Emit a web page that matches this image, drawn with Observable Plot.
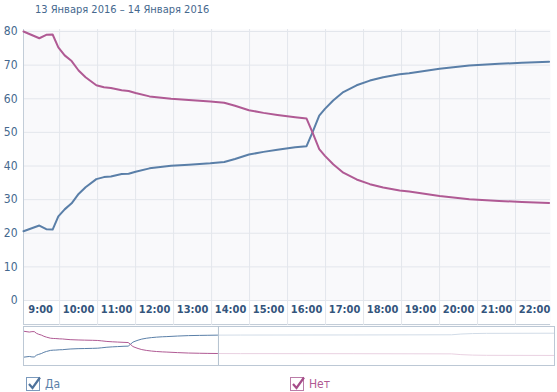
<!DOCTYPE html>
<html><head><meta charset="utf-8">
<script src="https://cdn.jsdelivr.net/npm/d3@7"></script>
<script src="https://cdn.jsdelivr.net/npm/@observablehq/plot@0.6"></script>
<style>
body{margin:0;background:#fff;}
#wrap{position:relative;width:557px;height:392px;overflow:hidden;font-family:"DejaVu Sans Condensed","DejaVu Sans",sans-serif;}
#title{position:absolute;left:35px;top:3px;font-size:11px;color:#45688e;white-space:nowrap;}
#main{position:absolute;left:0;top:0;}
#nav{position:absolute;left:0;top:326px;}
.leg{position:absolute;top:376px;font-size:12px;display:flex;align-items:center;}
.leg svg{display:block;}
</style></head><body>
<div id="wrap">
  <div id="main"></div>
  <div id="nav"></div>
  <div id="title">13 Января 2016 – 14 Января 2016</div>
  <div class="leg" style="left:25px"><svg width="17" height="16"><rect x="1.5" y="1.5" width="13" height="13" fill="#fff" stroke="#7b9abd"/><path d="M4 8 L7.5 12 L15 1.5" stroke="#4f739c" stroke-width="2.2" fill="none"/></svg><span style="margin-left:3px;color:#5b80a8">Да</span></div>
  <div class="leg" style="left:289px"><svg width="17" height="16"><rect x="1.5" y="1.5" width="13" height="13" fill="#fff" stroke="#bb7ca8"/><path d="M4 8 L7.5 12 L15 1.5" stroke="#a64d8a" stroke-width="2.2" fill="none"/></svg><span style="margin-left:3px;color:#b05a94">Нет</span></div>
</div>
<script>
// ---- data ----
const times = ["8:33","8:58","9:09","9:19","9:28","9:38","9:49","10:00","10:11","10:28","10:40","10:51","11:08","11:19","11:30","11:52","12:26","12:54","13:28","13:50","14:07","14:29","14:52","15:14","15:42","16:00","16:10","16:20","16:29","16:42","16:58","17:19","17:40","18:01","18:27","18:42","19:30","20:17","21:04","21:40","22:23"];
const yes = [20.6,22.3,21.2,21.1,25.0,27.1,28.9,31.7,33.7,36.1,36.7,36.9,37.6,37.7,38.3,39.3,40.1,40.4,40.8,41.2,42.1,43.4,44.2,44.8,45.6,45.9,50.3,55.0,57.0,59.5,62.0,64.0,65.4,66.4,67.3,67.6,68.9,69.9,70.4,70.7,71.0];
const no  = [80.0,78.0,79.0,79.1,75.3,72.9,71.2,68.4,66.4,64.0,63.4,63.2,62.5,62.3,61.7,60.7,60.0,59.6,59.2,58.8,57.9,56.6,55.8,55.2,54.5,54.1,49.7,45.0,43.0,40.5,38.0,36.0,34.6,33.6,32.7,32.4,31.1,30.1,29.6,29.3,29.0];
// second day, visible only in the navigator
const times2 = ["0:00","8:00","15:00","15:40","16:30","17:30","22:20"];
const yes2 = [71.2,71.4,71.8,73.5,74.6,75.1,75.4];
const no2  = [28.8,28.6,28.2,26.5,25.4,24.9,24.6];
const tickHours = [9,10,11,12,13,14,15,16,17,18,19,20,21,22];
const tickLabels = ["9:00","10:00","11:00","12:00","13:00","14:00","15:00","16:00","17:00","18:00","19:00","20:00","21:00","22:00"];
const yTicks = [0,10,20,30,40,50,60,70,80];

const BLUE = "#5a7fa8", MAG = "#b05a94", GRID = "#e3e6ec";
const toH = (s, day=0) => { const [h,m] = s.split(":").map(Number); return day*24 + h + m/60; };
const data = times.map((t,i)=>({t: toH(t), yes: yes[i], no: no[i]}));
const navData = data.concat(times2.map((t,i)=>({t: toH(t,1), yes: yes2[i], no: no2[i]})));
const x0 = 8.55, x1 = 22.42, xEnd = 46.33;
const gridHours = tickHours.map(h => h + 0.5).filter(h => h < x1);

const band = (index, scales, values, dims) => {
  const g = d3.create("svg:g");
  const y0 = scales.y(0);
  g.append("rect").attr("x", dims.marginLeft).attr("y", y0)
    .attr("width", dims.width - dims.marginLeft - dims.marginRight)
    .attr("height", dims.height - dims.marginBottom - y0).attr("fill", "#fff");
  g.append("line").attr("x1", dims.marginLeft).attr("x2", dims.width - dims.marginRight)
    .attr("y1", dims.height - dims.marginBottom - 0.5).attr("y2", dims.height - dims.marginBottom - 0.5)
    .attr("stroke", "#c3cdd8");
  return g.node();
};

const main = Plot.plot({
  width: 557, height: 326,
  marginTop: 29, marginBottom: 1, marginLeft: 23, marginRight: 7,
  style: {fontFamily: "'DejaVu Sans Condensed','DejaVu Sans',sans-serif", background: "transparent"},
  x: {domain: [x0, x1], range: [23, 550], axis: null},
  y: {domain: [0, 80], range: [300, 31], axis: null},
  marks: [
    Plot.frame({fill: "#f9f9fb"}),
    band,
    Plot.ruleY(yTicks, {stroke: GRID}),
    Plot.ruleX(gridHours, {stroke: GRID}),
    Plot.ruleX([x0], {stroke: "#c3cdd8"}),
    Plot.line(data, {x: "t", y: "yes", stroke: BLUE, strokeWidth: 2}),
    Plot.line(data, {x: "t", y: "no", stroke: MAG, strokeWidth: 2}),
    Plot.text(yTicks, {x: x0, y: d => d, dx: -6, textAnchor: "end", fill: "#45688e", fontSize: 12}),
    Plot.text(tickLabels, {x: (d, i) => tickHours[i], frameAnchor: "bottom", dy: -13, fill: "#34557d", fontSize: 11, fontWeight: "bold"})
  ]
});
document.getElementById("main").append(main);

const mask = (index, scales, values, dims) => {
  const g = d3.create("svg:g");
  const xs = scales.x(x1);
  g.append("rect").attr("x", xs).attr("y", dims.marginTop)
    .attr("width", dims.width - dims.marginRight - xs)
    .attr("height", dims.height - dims.marginTop - dims.marginBottom)
    .attr("fill", "#fff").attr("fill-opacity", 0.72);
  return g.node();
};

const nav = Plot.plot({
  width: 557, height: 40,
  marginTop: 0, marginBottom: 1, marginLeft: 23, marginRight: 3,
  style: {background: "transparent"},
  x: {domain: [x0, xEnd], range: [23, 554], axis: null},
  y: {domain: [20.6, 80], range: [30.7, 4.7], axis: null},
  marks: [
    Plot.line(navData, {x: "t", y: "yes", stroke: BLUE, strokeWidth: 1}),
    Plot.line(navData, {x: "t", y: "no", stroke: MAG, strokeWidth: 1}),
    mask,
    Plot.frame({stroke: "#bcc8d5"}),
    Plot.ruleX([x1], {stroke: "#b3c1cf"})
  ]
});
document.getElementById("nav").append(nav);
</script>
</body></html>
